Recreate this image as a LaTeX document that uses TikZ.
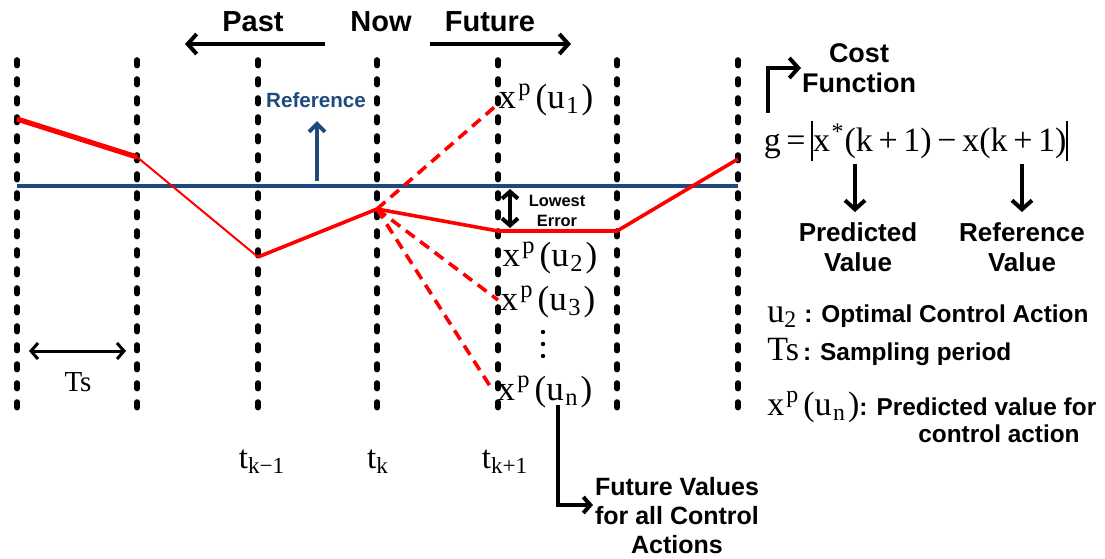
\documentclass[tikz,border=0pt]{standalone}
\usepackage{fontspec}
\setmainfont{Liberation Sans}
\newfontfamily\tms{Liberation Serif}
\usetikzlibrary{arrows.meta}
\definecolor{refblue}{HTML}{1F497D}
\definecolor{predred}{HTML}{FF0000}
\newcommand{\myxp}[1]{x\kern0.06em\textsuperscript{p}\kern0.12em(u\textsubscript{\kern0.06em#1}\kern0.06em)}
\newcommand{\mybar}{\rule[-0.28em]{0.05em}{1.2em}}
\begin{document}
\begin{tikzpicture}[x=0.5pt,y=-0.5pt,
  vline/.style={line width=2.8pt,line cap=round,dash pattern=on 2.8pt off 6.7pt},
  redline/.style={predred,line width=1.8pt,line join=round},
  reddash/.style={predred,line width=1.8pt,dash pattern=on 5.5pt off 3.5pt},
  blkarrow/.style={line width=2pt,-{Straight Barb[length=4.5pt,width=10pt,line width=2pt]}},
  lbl/.style={font=\bfseries\fontsize{14.5}{17}\selectfont,inner sep=0pt},
  smlbl/.style={font=\bfseries\fontsize{12.8}{15}\selectfont,inner sep=0pt,align=center},
  mth/.style={font=\tms\fontsize{17.5}{20}\selectfont,inner sep=0pt},
  tlbl/.style={font=\tms\fontsize{16.5}{20}\selectfont,inner sep=0pt},
  legtxt/.style={font=\bfseries\fontsize{12.2}{15}\selectfont}]
\useasboundingbox (0,0) rectangle (1105,558);

% vertical dotted time lines
\foreach \i/\x in {1/17,2/137,3/258,4/377,5/498,6/617,7/738}{
  \coordinate (vt\i) at (\x,60);
  \coordinate (vb\i) at (\x,418);
  \draw[vline] (vt\i) -- (vb\i);
}

% reference line
\coordinate (r0) at (17,186);
\coordinate (r1) at (738,186);
\draw[refblue,line width=2pt] (r0) -- (r1);

% measured/predicted trajectory
\coordinate (p0) at (17,119);
\coordinate (p1) at (137,157);
\coordinate (p2) at (258,257);
\coordinate (p3) at (377,209);
\coordinate (p4) at (498,231);
\coordinate (p5) at (617,231);
\coordinate (p6) at (738,159);
\draw[redline,line width=2.6pt] (p0) -- (p1);
\draw[redline,line width=1pt] (p1) -- (p2);
\draw[redline] (p2) -- (p3) -- (p4) -- (p5) -- (p6);

% predicted candidates
\coordinate (c1) at (498,104);
\coordinate (c3) at (498,300);
\coordinate (cn) at (490,386);
\draw[reddash] (p3) -- (c1);
\draw[reddash] (p3) -- (c3);
\draw[reddash] (p3) -- (cn);

% Past / Now / Future
\node[lbl] (past) at (253,22) {Past};
\node[lbl] (now) at (381,22) {Now};
\node[lbl] (future) at (490,22) {Future};
\coordinate (pa1) at (325,44);
\coordinate (pa2) at (185,44);
\coordinate (fa1) at (430,44);
\coordinate (fa2) at (571,44);
\draw[blkarrow] (pa1) -- (pa2);
\draw[blkarrow] (fa1) -- (fa2);

% Reference label and arrow
\node[font=\bfseries\fontsize{10.3}{12}\selectfont,text=refblue,inner sep=0pt] (reflbl) at (316,100) {Reference};
\coordinate (ra1) at (317,181);
\coordinate (ra2) at (317,121);
\draw[refblue,line width=2pt,-{Straight Barb[length=4pt,width=8pt,line width=2pt]}] (ra1) -- (ra2);

% predicted value labels
\node[mth] (xu1) at (546,100) {\myxp{1}};
\node[mth] (xu2) at (550,258) {\myxp{2}};
\node[mth] (xu3) at (548,302) {\myxp{3}};
\node[mth] (xun) at (545,392) {\myxp{n}};
\foreach \j/\y in {1/332,2/344,3/356}{
  \fill (543,\y) circle (1.1pt) coordinate (vd\j);
}

% lowest error
\coordinate (le1) at (510,189);
\coordinate (le2) at (510,228);
\draw[line width=2pt,{Straight Barb[length=3.5pt,width=8pt,line width=2pt]}-{Straight Barb[length=3.5pt,width=8pt,line width=2pt]}] (le1) -- (le2);
\node[font=\bfseries\fontsize{8.2}{10}\selectfont,align=center,inner sep=0pt] (lowest) at (557,211) {Lowest\\Error};

% sampling period
\coordinate (ts1) at (29,351);
\coordinate (ts2) at (126,351);
\draw[line width=1.5pt,{Straight Barb[length=3.5pt,width=8pt,line width=1.5pt]}-{Straight Barb[length=3.5pt,width=8pt,line width=1.5pt]}] (ts1) -- (ts2);
\node[font=\tms\fontsize{14.5}{17}\selectfont,inner sep=0pt] (tslbl) at (78,382) {Ts};

% time labels
\node[tlbl] (tkm) at (262,462) {t\textsubscript{k−1}};
\node[tlbl] (tk) at (378,462) {t\textsubscript{k}};
\node[tlbl] (tkp) at (505,462) {t\textsubscript{k+1}};

% future values
\coordinate (fv0) at (558,405);
\coordinate (fv1) at (558,505);
\coordinate (fv2) at (593,505);
\draw[line width=2pt,-{Straight Barb[length=3.5pt,width=8pt,line width=2pt]}] (fv0) -- (fv1) -- (fv2);
\node[smlbl,font=\bfseries\fontsize{12.5}{14.5}\selectfont] (fvlbl) at (677,516) {Future Values\\for all Control\\Actions};

% cost function
\coordinate (cf0) at (768,113);
\coordinate (cf1) at (768,68);
\coordinate (cf2) at (801,68);
\draw[line width=2pt,-{Straight Barb[length=4.5pt,width=10pt,line width=2pt]}] (cf0) -- (cf1) -- (cf2);
\node[lbl,align=center,font=\bfseries\fontsize{13.5}{15}\selectfont] (cost) at (859,68) {Cost\\Function};

\node[mth,font=\tms\fontsize{17}{20}\selectfont] (gfun) at (916,141) {g\,=\,\mybar x\kern0.05em\textsuperscript{*}(k\,+\,1)\,−\,x(k\,+\,1)\mybar};

\coordinate (d1a) at (855,164);
\coordinate (d1b) at (855,212);
\coordinate (d2a) at (1022,164);
\coordinate (d2b) at (1022,212);
\draw[blkarrow] (d1a) -- (d1b);
\draw[blkarrow] (d2a) -- (d2b);
\node[smlbl,font=\bfseries\fontsize{13}{15}\selectfont] (predv) at (858,247) {Predicted\\Value};
\node[smlbl,font=\bfseries\fontsize{13}{15}\selectfont] (refv) at (1022,247) {Reference\\Value};

% legend
\node[anchor=west,inner sep=0pt] (leg1) at (767,316) {{\tms\fontsize{17}{20}\selectfont u\textsubscript{2}}\kern0.35em{\bfseries\fontsize{12.2}{15}\selectfont : Optimal Control Action}};
\node[anchor=west,inner sep=0pt] (leg2) at (767,352) {{\tms\fontsize{17}{20}\selectfont Ts}\kern0.2em{\bfseries\fontsize{12.2}{15}\selectfont : Sampling period}};
\node[anchor=west,inner sep=0pt] (leg3) at (767,407) {{\tms\fontsize{17}{20}\selectfont\myxp{n}}{\bfseries\fontsize{12.2}{15}\selectfont : Predicted value for}};
\node[inner sep=0pt,legtxt] (leg3b) at (999,434) {control action};
\end{tikzpicture}
\end{document}
